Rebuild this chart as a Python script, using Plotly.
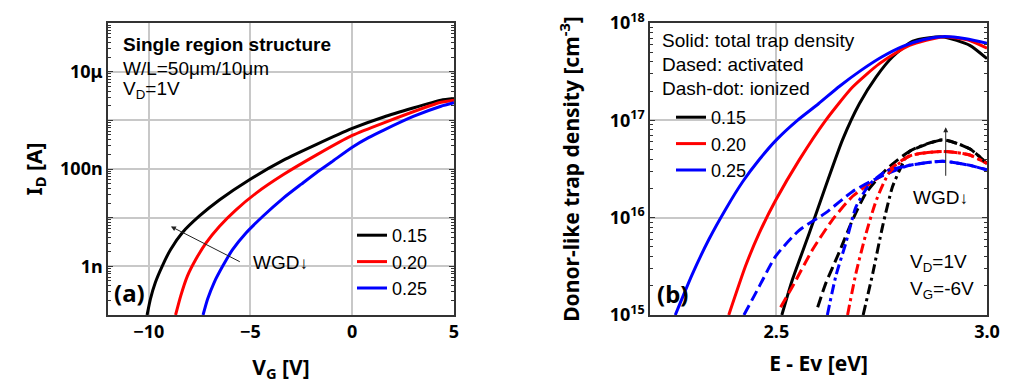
import math
import plotly.graph_objects as go

# ---------------- Panel (a): I_D vs V_G ----------------
wgd_labels = ["0.15", "0.20", "0.25"]
colors = ["black", "red", "blue"]

vg_015 = [-10.08, -9.92, -9.67, -9.34, -8.93, -8.35, -7.52, -6.53, -5.05, -3.40, -1.75, 0.0, 1.55, 4.36, 5.0]
id_015 = [1.0e-10, 2.1e-10, 4.7e-10, 1.0e-9, 2.2e-9, 4.9e-9, 1.07e-8, 2.3e-8, 6.0e-8, 1.5e-7, 3.2e-7, 6.8e-7, 1.17e-6, 2.6e-6, 2.8e-6]

vg_020 = [-8.68, -8.43, -8.10, -7.69, -7.19, -6.53, -5.71, -4.72, -3.40, -1.75, 0.0, 1.55, 4.36, 5.0]
id_020 = [1.0e-10, 2.45e-10, 6.3e-10, 1.38e-9, 3.0e-9, 6.6e-9, 1.45e-8, 3.2e-8, 7.6e-8, 1.95e-7, 4.9e-7, 8.9e-7, 2.35e-6, 2.6e-6]

vg_025 = [-7.33, -7.11, -6.78, -6.37, -5.88, -5.21, -4.39, -3.40, -2.5, -1.75, -1.0, 0.0, 0.8, 1.55, 3.0, 4.36, 5.0]
id_025 = [1.0e-10, 2.1e-10, 4.7e-10, 1.0e-9, 2.2e-9, 4.9e-9, 1.07e-8, 2.5e-8, 4.9e-8, 8.5e-8, 1.41e-7,
          2.8e-7, 4.4e-7, 6.3e-7, 1.2e-6, 1.95e-6, 2.3e-6]

vg_sets = [vg_015, vg_020, vg_025]
id_sets = [id_015, id_020, id_025]

ya_tickvals = [1e-9, 1e-8, 1e-7, 1e-6, 1e-5]
ya_ticktext = ["1n", "", "100n", "", "10μ"]
xa_tickvals = [-10, -5, 0, 5]

# ---------------- Panel (b): trap density vs E - Ev ----------------
e_tot_015 = [2.513, 2.538, 2.578, 2.617, 2.657, 2.697, 2.737, 2.776, 2.824, 2.895, 2.959, 3.0]
n_tot_015 = [1.0e15, 2.3e15, 6.9e15, 2.1e16, 6.3e16, 1.48e17, 2.8e17, 4.5e17, 6.5e17, 7.2e17, 5.9e17, 4.3e17]

e_tot_020 = [2.387, 2.427, 2.459, 2.498, 2.554, 2.617, 2.681, 2.744, 2.816, 2.895, 2.959, 3.0]
n_tot_020 = [1.0e15, 3.2e15, 6.9e15, 1.5e16, 3.9e16, 1.0e17, 2.2e17, 3.8e17, 5.9e17, 7.2e17, 6.6e17, 5.5e17]

e_tot_025 = [2.26, 2.30, 2.34, 2.38, 2.42, 2.46, 2.50, 2.55, 2.60, 2.65, 2.70, 2.75, 2.80, 2.85, 2.895, 2.95, 3.0]
n_tot_025 = [1.0e15, 2.6e15, 6.0e15, 1.23e16, 2.34e16, 3.98e16, 6.3e16, 1.0e17, 1.48e17, 2.24e17,
             3.24e17, 4.47e17, 5.75e17, 6.76e17, 7.24e17, 6.9e17, 6.2e17]

e_act_015 = [2.598, 2.617, 2.649, 2.681, 2.713, 2.760, 2.816, 2.895, 2.959, 3.0]
n_act_015 = [1.2e15, 2.1e15, 4.4e15, 9.5e15, 1.8e16, 3.1e16, 4.8e16, 6.3e16, 5.1e16, 3.6e16]

e_act_020 = [2.51, 2.538, 2.586, 2.633, 2.681, 2.744, 2.816, 2.895, 2.959, 3.0]
n_act_020 = [1.2e15, 1.95e15, 4.7e15, 9.5e15, 1.66e16, 2.6e16, 4.3e16, 4.8e16, 4.4e16, 3.6e16]

e_act_025 = [2.423, 2.459, 2.498, 2.554, 2.617, 2.681, 2.744, 2.816, 2.895, 2.959, 3.0]
n_act_025 = [1.0e15, 1.95e15, 4.0e15, 7.4e15, 1.12e16, 1.86e16, 2.6e16, 3.45e16, 3.8e16, 3.45e16, 3.1e16]

e_ion_015 = [2.706, 2.729, 2.752, 2.776, 2.800, 2.816, 2.895, 2.959, 3.0]
n_ion_015 = [1.0e15, 2.7e15, 8.1e15, 2.1e16, 3.6e16, 4.8e16, 6.3e16, 5.1e16, 3.6e16]

e_ion_020 = [2.669, 2.689, 2.713, 2.737, 2.768, 2.816, 2.895, 2.959, 3.0]
n_ion_020 = [1.0e15, 2.7e15, 6.9e15, 1.5e16, 2.9e16, 4.3e16, 4.8e16, 4.4e16, 3.6e16]

e_ion_025 = [2.621, 2.641, 2.665, 2.689, 2.721, 2.760, 2.816, 2.895, 2.959, 3.0]
n_ion_025 = [1.0e15, 2.5e15, 5.5e15, 1.29e16, 2.2e16, 3.0e16, 3.45e16, 3.8e16, 3.45e16, 3.1e16]

tot_sets = [(e_tot_015, n_tot_015), (e_tot_020, n_tot_020), (e_tot_025, n_tot_025)]
act_sets = [(e_act_015, n_act_015), (e_act_020, n_act_020), (e_act_025, n_act_025)]
ion_sets = [(e_ion_015, n_ion_015), (e_ion_020, n_ion_020), (e_ion_025, n_ion_025)]

yb_tickvals = [1e15, 1e16, 1e17, 1e18]
yb_ticktext = ["10<sup>15</sup>", "10<sup>16</sup>", "10<sup>17</sup>", "10<sup>18</sup>"]
xb_tickvals = [2.5, 3.0]
xb_ticktext = ["2.5", "3.0"]

# WGD arrows / labels (data values; log axes need log10 positions)
arrow_a = dict(x_tail=-5.45, y_tail=1.2e-9, x_head=-8.91, y_head=6.6e-9)
label_a = dict(x=-4.95, y=1.2e-9)
arrow_b = dict(x=2.902, y_tail=2.6e16, y_head=8.5e16)
label_b = dict(x=2.889, y=1.62e16)

fig = go.Figure()

for lab, col, vx, vy in zip(wgd_labels, colors, vg_sets, id_sets):
    fig.add_trace(go.Scatter(x=vx, y=vy, mode="lines", name=lab,
                             line=dict(color=col, width=3, shape="spline", smoothing=0.5),
                             xaxis="x", yaxis="y", legend="legend"))

for lab, col, (ex, ny) in zip(wgd_labels, colors, tot_sets):
    fig.add_trace(go.Scatter(x=ex, y=ny, mode="lines", name=lab,
                             line=dict(color=col, width=3, shape="spline", smoothing=0.6),
                             xaxis="x2", yaxis="y2", legend="legend2"))
for lab, col, (ex, ny) in zip(wgd_labels, colors, act_sets):
    fig.add_trace(go.Scatter(x=ex, y=ny, mode="lines", name=lab + " activated", showlegend=False,
                             line=dict(color=col, width=3, dash="11px,5px", shape="spline", smoothing=0.6),
                             xaxis="x2", yaxis="y2"))
for lab, col, (ex, ny) in zip(wgd_labels, colors, ion_sets):
    fig.add_trace(go.Scatter(x=ex, y=ny, mode="lines", name=lab + " ionized", showlegend=False,
                             line=dict(color=col, width=3, dash="10px,4px,3px,4px", shape="spline", smoothing=0.6),
                             xaxis="x2", yaxis="y2"))

tickfont = dict(family="Noto Sans", size=18, color="black", weight="bold")
titlefont = dict(family="Noto Sans", size=21, color="black", weight="bold")
grid = "#c8c8c8"

common_axis = dict(showline=True, linecolor="#333", linewidth=1.5, mirror=True, automargin=False,
                   showgrid=True, gridcolor=grid, gridwidth=1.5, zeroline=False,
                   tickfont=tickfont, ticks="")
log_axis = {**common_axis, "ticks": "inside", "ticklen": 5, "tickcolor": "#333", "mirror": "allticks"}

fig.update_layout(
    template="none",
    width=1012, height=383,
    margin=dict(l=0, r=0, t=0, b=0, pad=0),
    paper_bgcolor="white", plot_bgcolor="white",
    showlegend=True,
    xaxis=dict(domain=[108/1012, 454/1012], range=[-12, 5], tickmode="array", tickvals=xa_tickvals,
               title=dict(text="V<sub>G</sub> [V]", font=titlefont, standoff=22), anchor="y",
               **common_axis),
    yaxis=dict(domain=[68/383, 360/383], type="log", range=[-10, -4], tickmode="array",
               tickvals=ya_tickvals, ticktext=ya_ticktext, anchor="x",
               title=dict(text="I<sub>D</sub> [A]", font=titlefont, standoff=12),
               minor=dict(dtick="D1", ticks="inside", ticklen=3, tickcolor="#333", showgrid=False),
               **log_axis),
    xaxis2=dict(domain=[650/1012, 987/1012], range=[2.2, 3.0], tickmode="array", tickvals=xb_tickvals,
                ticktext=xb_ticktext, anchor="y2",
                title=dict(text="E - Ev [eV]", font=titlefont, standoff=14),
                **common_axis),
    yaxis2=dict(domain=[68/383, 360/383], type="log", range=[15, 18], tickmode="array",
                tickvals=yb_tickvals, ticktext=yb_ticktext, anchor="x2",
                title=dict(text="Donor-like trap density [cm<sup>-3</sup>]", font=titlefont, standoff=24),
                minor=dict(dtick="D1", ticks="inside", ticklen=3, tickcolor="#333", showgrid=False),
                **log_axis),
    legend=dict(x=352/1012, y=1 - 217/383, xanchor="left", yanchor="top", bgcolor="rgba(0,0,0,0)",
                font=dict(family="Liberation Sans", size=18, color="black"), tracegroupgap=0),
    legend2=dict(x=671/1012, y=1 - 99/383, xanchor="left", yanchor="top", bgcolor="rgba(0,0,0,0)",
                 font=dict(family="Liberation Sans", size=18, color="black"), tracegroupgap=0),
)

ann_font = dict(family="Liberation Sans", size=19, color="black")
anns = [
    dict(text="<b>Single region structure</b>", x=121/1012, y=1 - 44/383),
    dict(text="W/L=50μm/10μm", x=121/1012, y=1 - 68/383),
    dict(text="V<sub>D</sub>=1V", x=121/1012, y=1 - 90/383),
    dict(text="Solid: total trap density", x=660/1012, y=1 - 41/383),
    dict(text="Dased: activated", x=660/1012, y=1 - 65/383),
    dict(text="Dash-dot: ionized", x=660/1012, y=1 - 88/383),
    dict(text="V<sub>D</sub>=1V", x=908/1012, y=1 - 263/383),
    dict(text="V<sub>G</sub>=-6V", x=908/1012, y=1 - 290/383),
]
for a in anns:
    fig.add_annotation(xref="paper", yref="paper", xanchor="left", yanchor="middle",
                       showarrow=False, font=ann_font, **a)

fig.add_annotation(xref="paper", yref="paper", x=112/1012, y=1 - 292/383, text="<b>(a)</b>",
                   showarrow=False, xanchor="left", yanchor="middle",
                   font=dict(family="Noto Sans", size=24, color="black"))
fig.add_annotation(xref="paper", yref="paper", x=655/1012, y=1 - 293/383, text="<b>(b)</b>",
                   showarrow=False, xanchor="left", yanchor="middle",
                   font=dict(family="Noto Sans", size=24, color="black"))

lg = math.log10
wgd_text = "WGD<span style='font-size:17px'>↓</span>"
fig.add_annotation(xref="x", yref="y", axref="x", ayref="y",
                   x=arrow_a["x_head"], y=lg(arrow_a["y_head"]),
                   ax=arrow_a["x_tail"], ay=lg(arrow_a["y_tail"]),
                   text="", showarrow=True, arrowhead=2, arrowsize=1, arrowwidth=1, arrowcolor="#222")
fig.add_annotation(xref="x", yref="y", x=label_a["x"], y=lg(label_a["y"]), text=wgd_text,
                   showarrow=False, xanchor="left", yanchor="middle", font=ann_font)
fig.add_annotation(xref="x2", yref="y2", axref="x2", ayref="y2",
                   x=arrow_b["x"], y=lg(arrow_b["y_head"]),
                   ax=arrow_b["x"], ay=lg(arrow_b["y_tail"]),
                   text="", showarrow=True, arrowhead=2, arrowsize=1, arrowwidth=1, arrowcolor="#222")
fig.add_annotation(xref="x2", yref="y2", x=label_b["x"], y=lg(label_b["y"]), text=wgd_text,
                   showarrow=False, xanchor="center", yanchor="middle", font=ann_font)

fig.write_html("out.html", config={"displayModeBar": False},
               post_script="document.body.style.margin='0px';")
